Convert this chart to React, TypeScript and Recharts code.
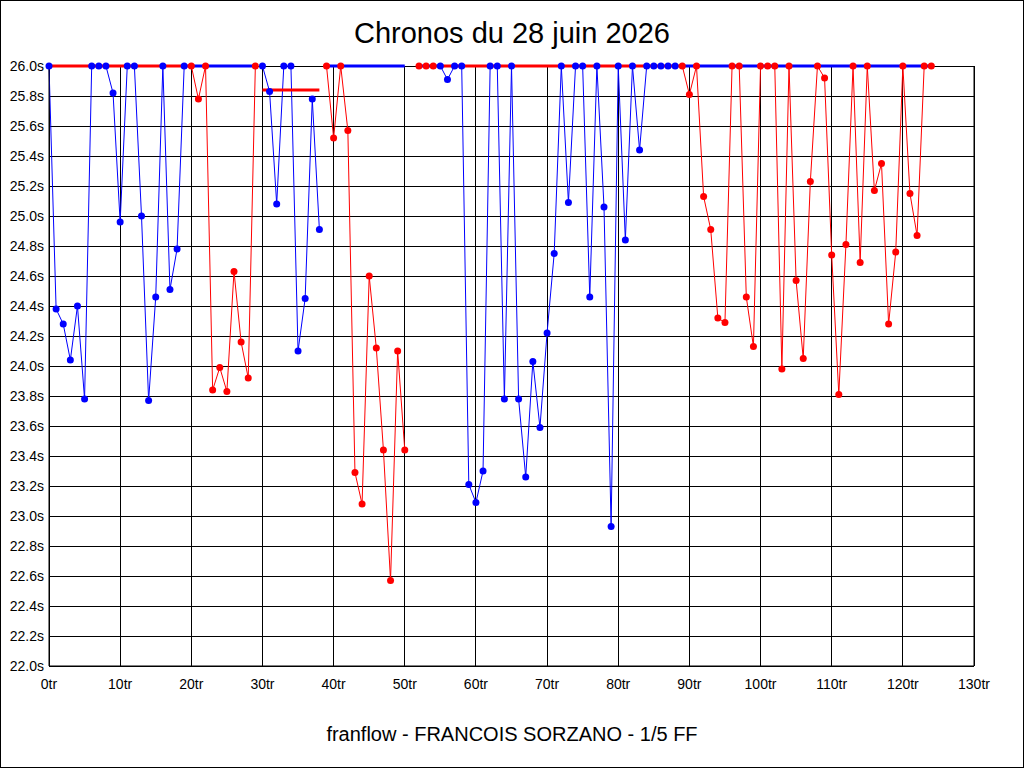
import { ComposedChart, Line, XAxis, YAxis, CartesianGrid } from 'recharts';

// lap times in seconds, one per lap (lap 51 missing); 26.0 = clipped at top
const LAP_TIMES: (number | null)[] = [
  26.0, 24.38, 24.28, 24.04, 24.40, 23.78, 26.0, 26.0, 26.0, 25.82,
  24.96, 26.0, 26.0, 25.00, 23.77, 24.46, 26.0, 24.51, 24.78, 26.0,
  26.0, 25.78, 26.0, 23.84, 23.99, 23.83, 24.63, 24.16, 23.92, 26.0,
  26.0, 25.83, 25.08, 26.0, 26.0, 24.10, 24.45, 25.78, 24.91, 26.0,
  25.52, 26.0, 25.57, 23.29, 23.08, 24.60, 24.12, 23.44, 22.57, 24.10,
  23.44, null, 26.0, 26.0, 26.0, 26.0, 25.91, 26.0, 26.0, 23.21,
  23.09, 23.30, 26.0, 26.0, 23.78, 26.0, 23.78, 23.26, 24.03, 23.59,
  24.22, 24.75, 26.0, 25.09, 26.0, 26.0, 24.46, 26.0, 25.06, 22.93,
  26.0, 24.84, 26.0, 25.44, 26.0, 26.0, 26.0, 26.0, 26.0, 26.0,
  25.81, 26.0, 25.13, 24.91, 24.32, 24.29, 26.0, 26.0, 24.46, 24.13,
  26.0, 26.0, 26.0, 23.98, 26.0, 24.57, 24.05, 25.23, 26.0, 25.92,
  24.74, 23.81, 24.81, 26.0, 24.69, 26.0, 25.17, 25.35, 24.28, 24.76,
  26.0, 25.15, 24.87, 26.0, 26.0,
];

// lap ranges driven by each colour [first, last]
const BLUE_RUNS: [number, number][] = [[0, 19], [30, 38], [55, 88]];
const RED_RUNS: [number, number][] = [[20, 29], [39, 50], [52, 54], [89, 124]];

// flat lines of the idle colour [from lap, to lap, level]
const BLUE_IDLE: [number, number, number][] = [[20, 29, 26], [39, 50, 26], [52, 55, 26], [89, 124, 26]];
const RED_IDLE: [number, number, number][] = [[0, 20, 26], [30, 38, 25.84], [55, 89, 26]];

const X_TICKS = [0, 10, 20, 30, 40, 50, 60, 70, 80, 90, 100, 110, 120, 130];
const Y_TICKS = [22.0, 22.2, 22.4, 22.6, 22.8, 23.0, 23.2, 23.4, 23.6, 23.8,
  24.0, 24.2, 24.4, 24.6, 24.8, 25.0, 25.2, 25.4, 25.6, 25.8, 26.0];

const BLUE = '#0000ff';
const RED = '#ff0000';
const FONT = "Arial, 'Liberation Sans', sans-serif";

const inRuns = (t: number, runs: [number, number][]) =>
  runs.some(([a, b]) => t >= a && t <= b);

const rows = LAP_TIMES.map((v, t) => ({
  t,
  blue: v !== null && inRuns(t, BLUE_RUNS) ? v : null,
  red: v !== null && inRuns(t, RED_RUNS) ? v : null,
}));

const tick = { fontSize: 14, fill: '#000', fontFamily: FONT };

export default function App() {
  return (
    <div style={{
      position: 'absolute', left: 0, top: 0, width: 1024, height: 768,
      boxSizing: 'border-box', border: '1px solid #000', background: '#fff',
    }}>
      <style>{'.recharts-cartesian-grid line{shape-rendering:crispEdges}'}</style>
      <div style={{
        position: 'absolute', left: 0, top: 12, width: 1022, textAlign: 'center',
        fontFamily: FONT, fontSize: 29, lineHeight: '40px', color: '#000',
      }}>
        Chronos du 28 juin 2026
      </div>
      <div style={{position: 'absolute', left: -1, top: -1}}>
        <ComposedChart width={1024} height={768} data={rows}
          margin={{ top: 66, right: 0, bottom: 0, left: 0 }}>
          <CartesianGrid stroke="#000" yAxisId="left" />
          <XAxis dataKey="t" type="number" domain={[0, 130]} ticks={X_TICKS}
            height={102} tickLine={false} tickSize={13} tickMargin={0}
            axisLine={{ stroke: '#000' }} tick={tick}
            tickFormatter={(v: number) => `${v}tr`} interval={0} />
          <YAxis yAxisId="left" domain={[22, 26]} ticks={Y_TICKS} width={49}
            tickLine={false} tickSize={5} tickMargin={0}
            axisLine={{ stroke: '#000' }} tick={tick} interval={0}
            tickFormatter={(v: number) => `${v.toFixed(1)}s`} />
          <YAxis yAxisId="right" orientation="right" domain={[22, 26]} ticks={Y_TICKS} width={50}
            tickLine={false} tickSize={6} tickMargin={0}
            axisLine={{ stroke: '#000' }} tick={{ ...tick, textAnchor: 'start' }} interval={0}
            tickFormatter={(v: number) => `${v.toFixed(1)}s`} />

          <Line yAxisId="left" dataKey="blue" stroke={BLUE} strokeWidth={1} dot={false}
            activeDot={false} isAnimationActive={false} />
          <Line yAxisId="left" dataKey="red" stroke={RED} strokeWidth={1} dot={false}
            activeDot={false} isAnimationActive={false} />

          {BLUE_IDLE.map(([a, b, v], i) => (
            <Line key={`bi${i}`} yAxisId="left" data={[{ t: a, idle: v }, { t: b, idle: v }]}
              dataKey="idle" stroke={BLUE} strokeWidth={3} dot={false}
              activeDot={false} isAnimationActive={false} />
          ))}
          {RED_IDLE.map(([a, b, v], i) => (
            <Line key={`ri${i}`} yAxisId="left" data={[{ t: a, idle: v }, { t: b, idle: v }]}
              dataKey="idle" stroke={RED} strokeWidth={3} dot={false}
              activeDot={false} isAnimationActive={false} />
          ))}

          <Line yAxisId="left" dataKey="blue" stroke="none"
            dot={{ r: 3.5, fill: BLUE, stroke: 'none' }}
            activeDot={false} isAnimationActive={false} />
          <Line yAxisId="left" dataKey="red" stroke="none"
            dot={{ r: 3.5, fill: RED, stroke: 'none' }}
            activeDot={false} isAnimationActive={false} />
        </ComposedChart>
      </div>
      <div style={{
        position: 'absolute', left: 0, top: 718, width: 1022, textAlign: 'center',
        fontFamily: FONT, fontSize: 20, lineHeight: '30px', color: '#000',
      }}>
        franflow - FRANCOIS SORZANO - 1/5 FF
      </div>
    </div>
  );
}
